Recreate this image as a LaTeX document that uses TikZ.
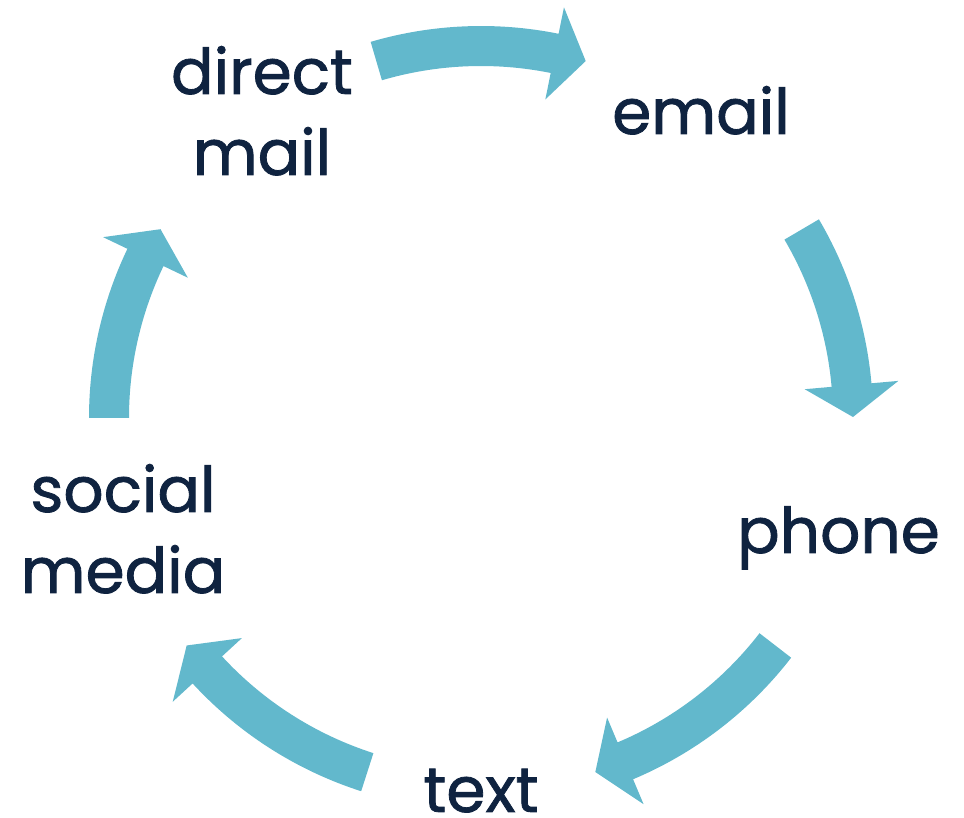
\documentclass[tikz,border=0pt]{standalone}
\usepackage{fontspec}
\newfontfamily\lblfont{Poppins}[FakeBold=1.3]
\definecolor{navy}{HTML}{0F2340}
\definecolor{cyc}{HTML}{62B8CC}
\newcommand\cycarrow[2]{%
  \pgfmathsetmacro\cbase{#2+4.93}%
  \fill[cyc] (#1:392) arc[start angle=#1,end angle=\cbase,radius=392]
    -- (\cbase:419) -- (#2:372) -- (\cbase:325) -- (\cbase:352)
    arc[start angle=\cbase,end angle=#1,radius=352] -- cycle;}
\begin{document}
\begin{tikzpicture}[x=1pt,y=1pt,
  lbl/.style={text=navy,inner sep=0pt,anchor=base,align=center,
    font=\lblfont\fontsize{63}{81}\selectfont}]
\useasboundingbox (0,0) rectangle (964,818);
\begin{scope}[shift={(481,400)}]
  \cycarrow{106.35}{73.65}
  \cycarrow{30.45}{0.15}
  \cycarrow{-37.7}{-72.1}
  \cycarrow{-107.8}{-142.3}
  \cycarrow{180}{149.5}
\end{scope}
\node[lbl] (dm) at (262,643) {direct\\mail};
\node[lbl] (em) at (701,684) {email};
\node[lbl] (ph) at (838.5,265) {phone};
\node[lbl] (tx) at (481,6) {text};
\node[lbl] (sm) at (123,225) {social\\media};
\end{tikzpicture}
\end{document}
